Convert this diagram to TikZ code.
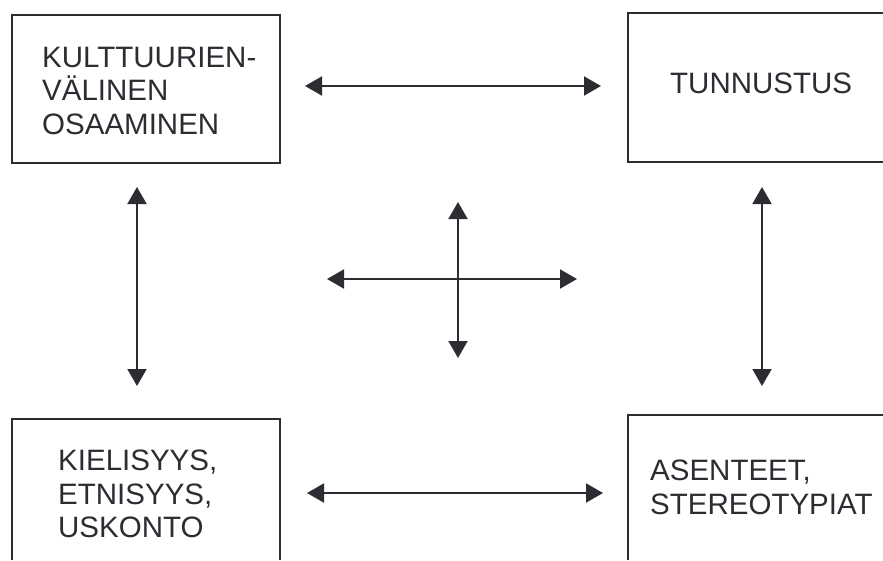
\documentclass[tikz,border=0pt]{standalone}
\usepackage{fontspec}
\setmainfont{Liberation Sans}
\usetikzlibrary{arrows.meta}
\definecolor{ink}{RGB}{43,45,50}
\begin{document}
\begin{tikzpicture}[x=1pt,y=-1pt,
  frame/.style={draw=ink,line width=1.8pt},
  label/.style={anchor=north west,inner sep=0pt,align=left,text=ink,
    font=\fontsize{29.5}{33.5}\selectfont},
  link/.style={draw=ink,line width=2pt,
    {Triangle[length=17pt,width=19pt]}-{Triangle[length=17pt,width=19pt]}}]
\useasboundingbox (0,0) rectangle (883,560);
% frames
\draw[frame] (12,15) rectangle (280,163);
\draw[frame] (883,13) -- (628,13) -- (628,162) -- (883,162);
\draw[frame] (12,560) -- (12,419) -- (280,419) -- (280,560);
\draw[frame] (883,415) -- (628,415) -- (628,560);
% texts
\node[label] (kv) at (42,47) {KULTTUURIEN-\\VÄLINEN\\OSAAMINEN};
\node[label] (tu) at (670,73) {TUNNUSTUS};
\node[label] (ki) at (58,450) {KIELISYYS,\\ETNISYYS,\\USKONTO};
\node[label] (as) at (650,460) {ASENTEET,\\STEREOTYPIAT};
% arrow endpoints
\coordinate (t1) at (305,86);  \coordinate (t2) at (601,86);
\coordinate (b1) at (307,493); \coordinate (b2) at (603,493);
\coordinate (l1) at (137,187); \coordinate (l2) at (137,386);
\coordinate (r1) at (762,187); \coordinate (r2) at (762,386);
\coordinate (h1) at (327,279); \coordinate (h2) at (577,279);
\coordinate (v1) at (458,202); \coordinate (v2) at (458,358);
\draw[link] (t1) -- (t2);
\draw[link] (b1) -- (b2);
\draw[link] (l1) -- (l2);
\draw[link] (r1) -- (r2);
\draw[link] (h1) -- (h2);
\draw[link] (v1) -- (v2);
\end{tikzpicture}
\end{document}
